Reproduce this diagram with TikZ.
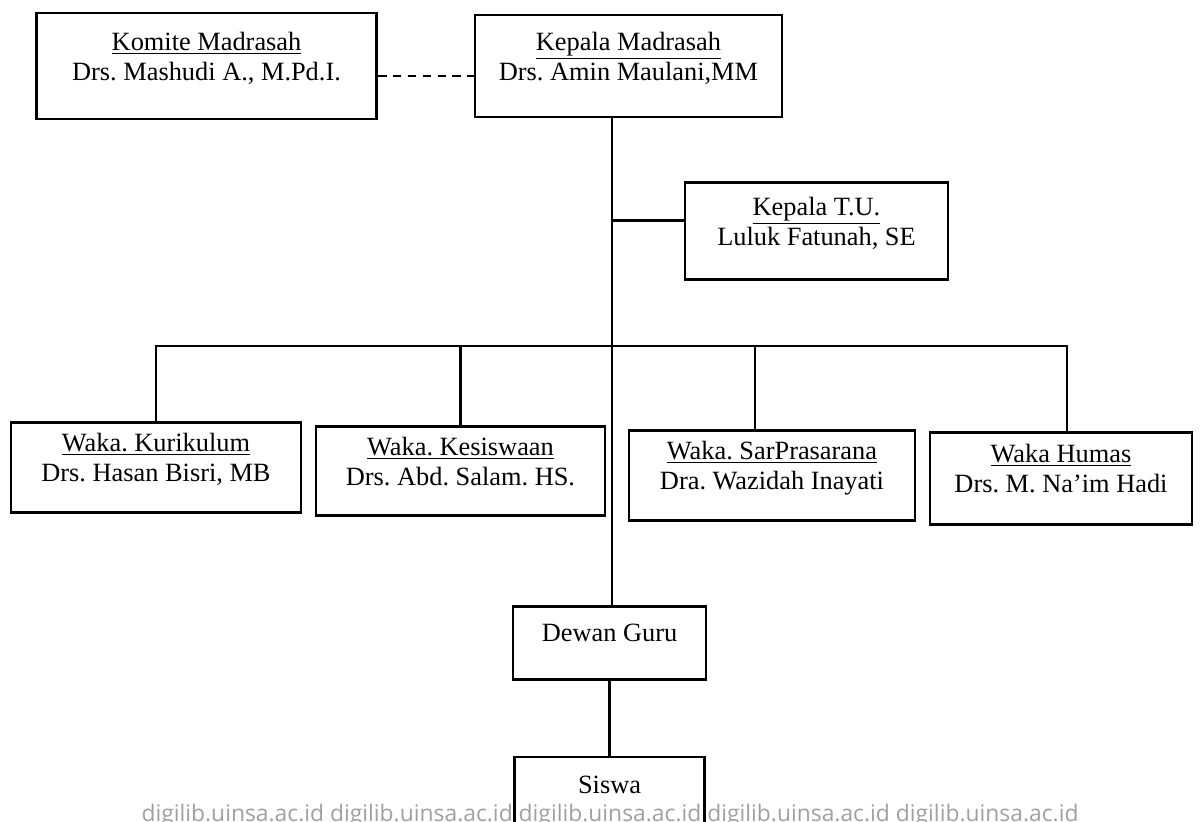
\documentclass[tikz,border=0pt]{standalone}
\usepackage{fontspec}
\setmainfont{Liberation Serif}
\newfontfamily\wmfont{Open Sans}
\usetikzlibrary{positioning}
\definecolor{wmgray}{RGB}{160,160,160}
\frenchspacing

\begin{document}
\begin{tikzpicture}[font=\fontsize{15}{17}\selectfont,
  unit/.style={draw, line width=1.4pt, align=center, text depth=0.4cm, inner sep=2pt},
  link/.style={line width=1.4pt},
  watermark/.style={font=\wmfont\fontsize{13}{15}\selectfont, text=wmgray, inner sep=0pt}]
\useasboundingbox (0,0) rectangle (24.04,-16.42);
\clip (0,0) rectangle (24.04,-16.42);
\node[watermark, anchor=base] (wm) at (12.2,-16.43) {digilib.uinsa.ac.id digilib.uinsa.ac.id digilib.uinsa.ac.id digilib.uinsa.ac.id digilib.uinsa.ac.id};
\node[unit, minimum width=6.14cm, minimum height=2.04cm] (kepala) at (12.57,-1.32) {\underline{Kepala Madrasah}\\ Drs. Amin Maulani,MM};
\node[unit, left=1.92cm of kepala, minimum width=6.8cm, minimum height=2.12cm] (komite) {\underline{Komite Madrasah}\\ Drs. Mashudi A., M.Pd.I.};
\node[unit, below=1.26cm of kepala.south, xshift=3.76cm, minimum width=5.26cm, minimum height=1.94cm] (tu) {\underline{Kepala T.U.}\\ Luluk Fatunah, SE};
\node[unit, below=6.06cm of kepala.south, xshift=-9.45cm, minimum width=5.8cm, minimum height=1.8cm] (kurikulum) {\underline{Waka. Kurikulum}\\ Drs. Hasan Bisri, MB};
\node[unit, below=6.14cm of kepala.south, xshift=-3.36cm, minimum width=5.78cm, minimum height=1.78cm] (kesiswaan) {\underline{Waka. Kesiswaan}\\ Drs. Abd. Salam. HS.};
\node[unit, below=6.22cm of kepala.south, xshift=2.87cm, minimum width=5.72cm, minimum height=1.8cm] (sarpras) {\underline{Waka. SarPrasarana}\\ Dra. Wazidah Inayati};
\node[unit, below=6.26cm of kepala.south, xshift=8.65cm, minimum width=5.24cm, minimum height=1.84cm] (humas) {\underline{Waka Humas}\\ Drs. M. Na'im Hadi};
\node[unit, below=9.74cm of kepala.south, xshift=-0.38cm, minimum width=3.86cm, minimum height=1.46cm] (dewan) {Dewan Guru};
\node[unit, below=1.5cm of dewan.south, minimum width=3.8cm, minimum height=1.52cm] (siswa) {Siswa};
\coordinate[below=4.56cm of kepala.south] (fork);
\draw[link, dash pattern=on 5pt off 3.5pt] ([yshift=-0.2cm]komite.east) -- ([yshift=-0.2cm]kepala.west);
\draw[link] ([xshift=0.05cm]kepala.south -| dewan.north) -- ([xshift=0.05cm]dewan.north);
\draw[link] ([yshift=0.21cm]tu.west) -- ([yshift=0.21cm,xshift=0.05cm]tu.west -| dewan.north);
\draw[link] (kurikulum.north) -- (kurikulum.north |- fork) -- ([xshift=0.12cm]humas.north |- fork) -- ([xshift=0.12cm]humas.north);
\draw[link] (kesiswaan.north) -- (kesiswaan.north |- fork);
\draw[link] ([xshift=-0.34cm]sarpras.north) -- ([xshift=-0.34cm]sarpras.north |- fork);
\draw[link] (dewan.south) -- (siswa.north);
\end{tikzpicture}
\end{document}
